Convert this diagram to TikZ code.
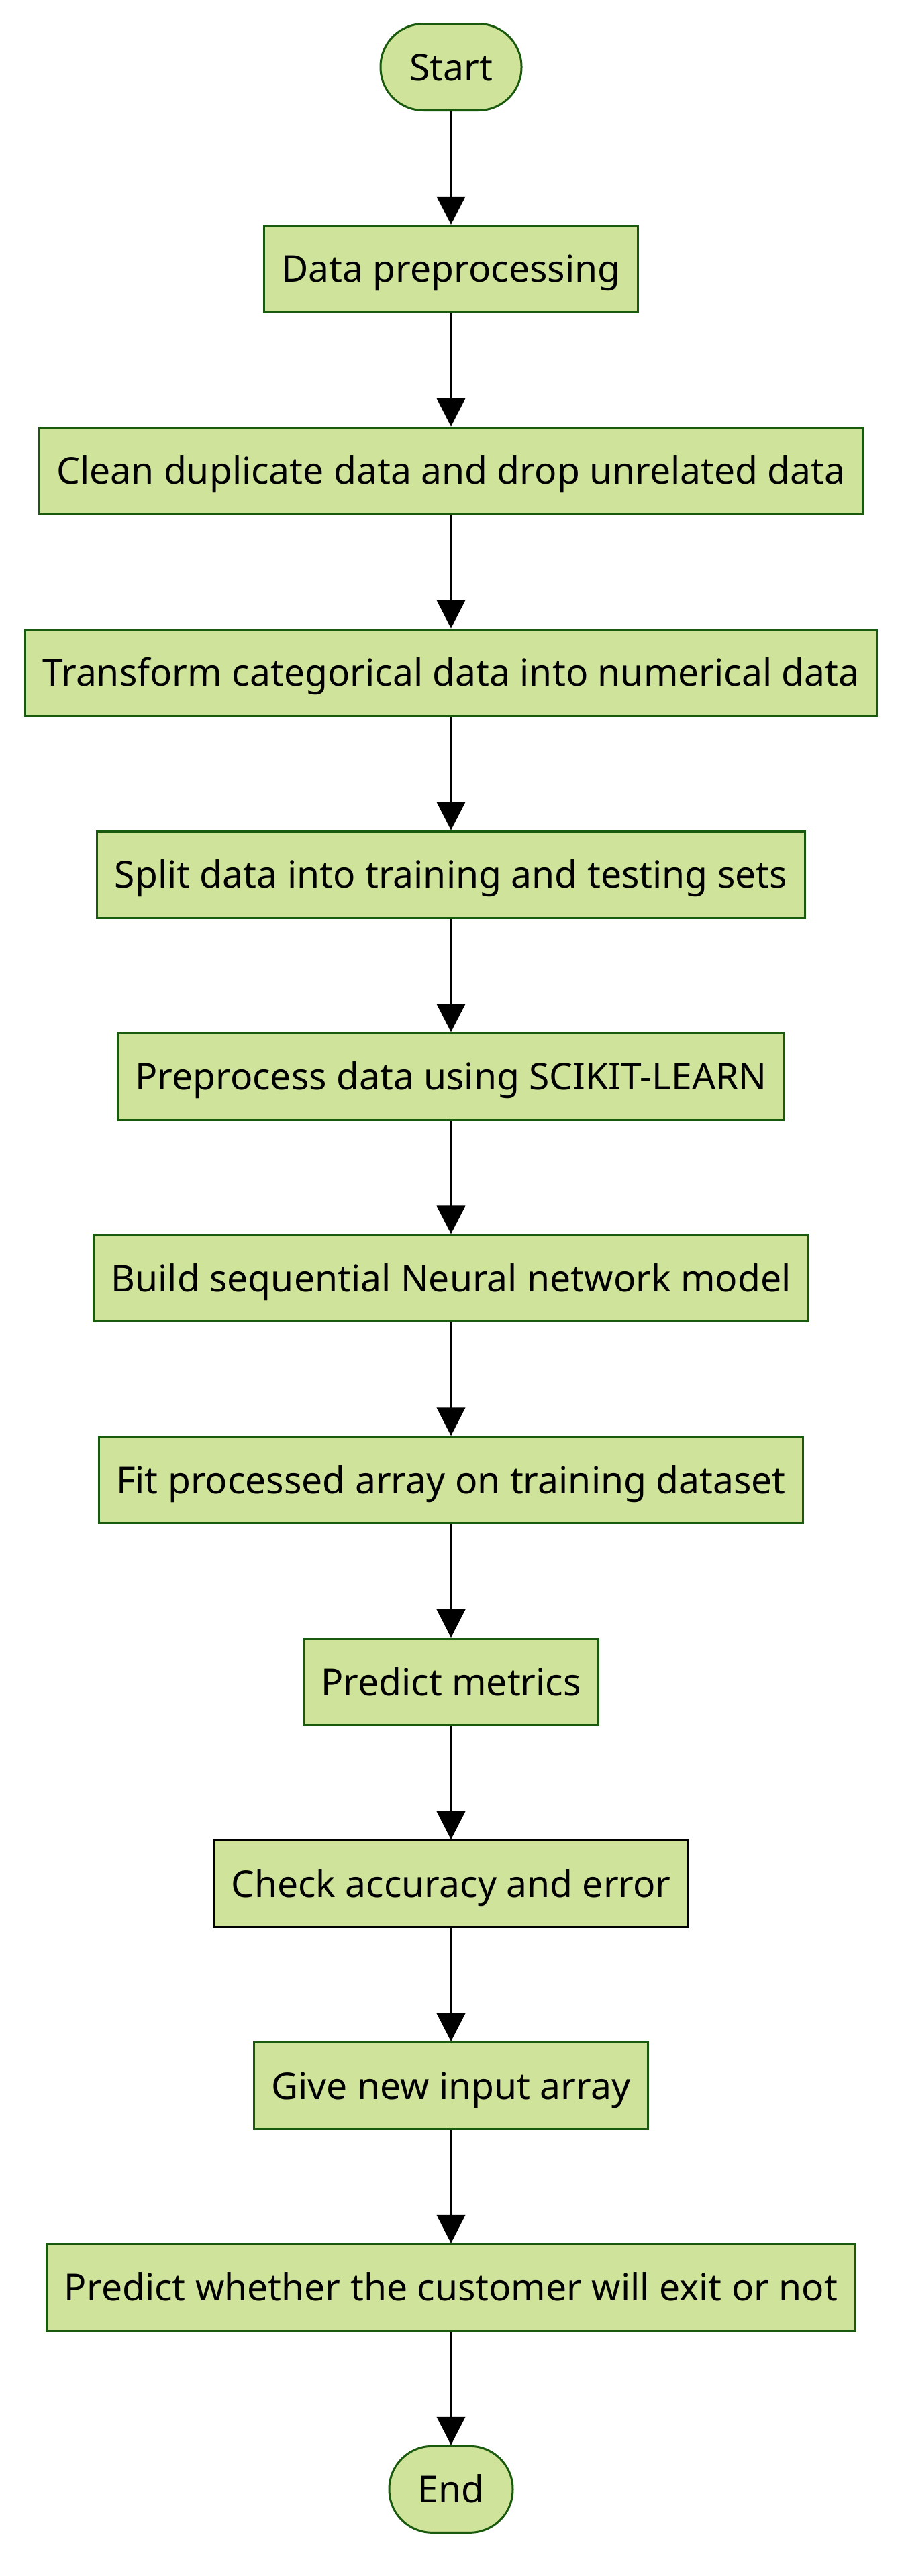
\documentclass[tikz,border=0pt]{standalone}
\usepackage{fontspec}
\setmainfont{Noto Sans}
\usetikzlibrary{arrows.meta,positioning}
\definecolor{FlowFill}{HTML}{CFE39A}
\definecolor{FlowEdge}{HTML}{1A5A0E}

\begin{document}
\begin{tikzpicture}[node distance=84.45pt,
  box/.style={draw=FlowEdge, fill=FlowFill, line width=1.5pt, font=\fontsize{27.6}{31}\selectfont,
    minimum height=64.5pt, inner xsep=13pt, text height=26pt, text depth=6pt, align=center},
  term/.style={box, rounded corners=32pt, minimum width=98pt},
  flow/.style={-{Triangle[length=21pt,width=21pt]}, line width=2pt}]
  \useasboundingbox (0,0) rectangle (672pt,-1920pt);
  \node[term, minimum width=105pt] (start) at (336pt,-50pt) {Start};
  \node[box, below=of start] (prep) {Data preprocessing};
  \node[box, below=of prep] (clean) {Clean duplicate data and drop unrelated data};
  \node[box, below=of clean] (trans) {Transform categorical data into numerical data};
  \node[box, below=of trans] (split) {Split data into training and testing sets};
  \node[box, below=of split] (sk) {Preprocess data using SCIKIT-LEARN};
  \node[box, below=of sk] (build) {Build sequential Neural network model};
  \node[box, below=of build] (fit) {Fit processed array on training dataset};
  \node[box, below=of fit] (metr) {Predict metrics};
  \node[box, draw=black, below=of metr] (check) {Check accuracy and error};
  \node[box, below=of check] (input) {Give new input array};
  \node[box, below=of input] (exit) {Predict whether the customer will exit or not};
  \node[term, minimum width=92pt, below=of exit] (end) {End};
  \foreach \a/\b in {start/prep, prep/clean, clean/trans, trans/split, split/sk, sk/build,
                     build/fit, fit/metr, metr/check, check/input, input/exit, exit/end}
    \draw[flow] (\a) -- (\b);
\end{tikzpicture}
\end{document}
